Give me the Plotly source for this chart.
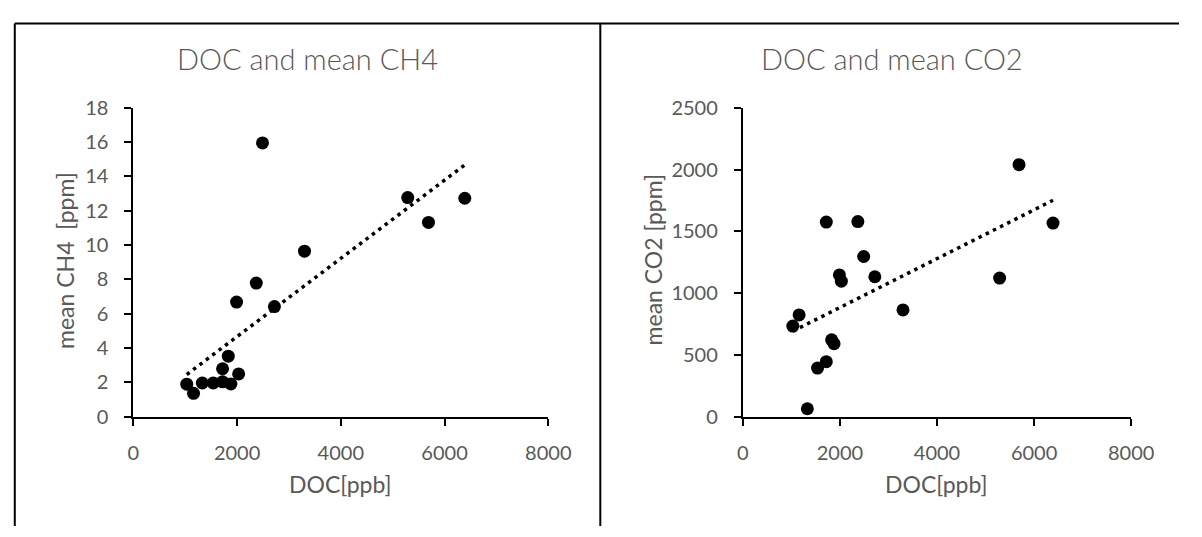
import numpy as np
import plotly.graph_objects as go

# ---- data ----
doc_ppb = [1030, 1160, 1330, 1540, 1720, 1720, 1830, 1880, 1990, 2030,
           2370, 2490, 2720, 3300, 5290, 5690, 6390]
mean_ch4 = [1.9, 1.37, 1.97, 1.97, 2.8, 2.04, 3.53, 1.91, 6.68, 2.5,
            7.79, 15.95, 6.42, 9.65, 12.77, 11.32, 12.73]
mean_co2 = [734, 824, 65, 394, 1575, 446, 623, 592, 1148, 1097,
            1579, 1297, 1133, 865, 1122, 2040, 1567]
x_ticks = [0, 2000, 4000, 6000, 8000]
ch4_ticks = [0, 2, 4, 6, 8, 10, 12, 14, 16, 18]
co2_ticks = [0, 500, 1000, 1500, 2000, 2500]

W, H = 1202, 537
def px(x):
    return x / W
def py(y):
    return 1 - y / H

def trend(x, y):
    x = np.asarray(x, float)
    y = np.asarray(y, float)
    k, b = np.polyfit(x, y, 1)
    xs = np.array([x.min(), x.max()])
    return xs, k * xs + b

fig = go.Figure()
marker = dict(color="black", size=13, line=dict(width=0))
line = dict(color="black", width=3.5, dash="3.5px,4.5px")

fig.add_trace(go.Scatter(x=doc_ppb, y=mean_ch4, mode="markers", marker=marker,
                         xaxis="x", yaxis="y", showlegend=False))
tx, ty = trend(doc_ppb, mean_ch4)
fig.add_trace(go.Scatter(x=tx, y=ty, mode="lines", line=line,
                         xaxis="x", yaxis="y", showlegend=False))

fig.add_trace(go.Scatter(x=doc_ppb, y=mean_co2, mode="markers", marker=marker,
                         xaxis="x2", yaxis="y2", showlegend=False))
tx2, ty2 = trend(doc_ppb, mean_co2)
fig.add_trace(go.Scatter(x=tx2, y=ty2, mode="lines", line=line,
                         xaxis="x2", yaxis="y2", showlegend=False))

tickfont = dict(family="Lato, Calibri, sans-serif", size=20, color="#595959")
common = dict(showgrid=False, zeroline=False, showline=True, linecolor="black",
              linewidth=2, ticks="outside", ticklen=7, tickwidth=2,
              tickcolor="black", tickfont=tickfont, fixedrange=True)

y_dom = [py(422.7), py(99.2)]
fig.update_layout(
    width=W, height=H, autosize=False,
    margin=dict(l=0, r=0, t=0, b=0, pad=0),
    paper_bgcolor="white", plot_bgcolor="white",
    xaxis=dict(domain=[px(130.5), px(555.7)], range=[0, 8000], tickvals=x_ticks,
               anchor="y", ticklabelstandoff=10, **common),
    yaxis=dict(domain=y_dom, range=[0, 18], tickvals=ch4_ticks,
               anchor="x", ticklabelstandoff=12, **common),
    xaxis2=dict(domain=[px(755), px(1153)], range=[0, 8000], tickvals=x_ticks,
                anchor="y2", ticklabelstandoff=10, **common),
    yaxis2=dict(domain=y_dom, range=[0, 2500], tickvals=co2_ticks,
                anchor="x2", ticklabelstandoff=12, **common),
)

title_font = dict(family="Lato, Calibri, sans-serif", size=29, color="#595959", weight=300)
axis_font = dict(family="Lato, Calibri, sans-serif", size=23, color="#595959")
ann = [
    dict(text="DOC and mean CH4", x=px(309), y=py(48), font=title_font),
    dict(text="DOC and mean CO2", x=px(908), y=py(48), font=title_font),
    dict(text="DOC[ppb]", x=px(343), y=py(493), font=axis_font),
    dict(text="DOC[ppb]", x=px(954), y=py(493), font=axis_font),
    dict(text="mean CH4\u00a0\u00a0[ppm]", x=px(61), y=py(259), font=axis_font, textangle=-90),
    dict(text="mean CO2 [ppm]", x=px(663), y=py(259), font=axis_font, textangle=-90),
]
for a in ann:
    a.update(xref="paper", yref="paper", showarrow=False, xanchor="center", yanchor="middle")
fig.update_layout(annotations=ann)

# chart frames (Excel chart borders)
frame = dict(color="black", width=2)
shapes = [
    dict(type="line", x0=px(9), x1=1.0, y0=py(11), y1=py(11)),
    dict(type="line", x0=px(9), x1=px(9), y0=py(11), y1=0),
    dict(type="line", x0=px(609), x1=px(609), y0=py(11), y1=0),
]
for s in shapes:
    s.update(xref="paper", yref="paper", line=frame, layer="above")
fig.update_layout(shapes=shapes)

fig.write_html(
    "out.html",
    config={"displayModeBar": False, "responsive": False},
    post_script="document.body.style.margin='0';document.body.style.overflow='hidden';",
)
